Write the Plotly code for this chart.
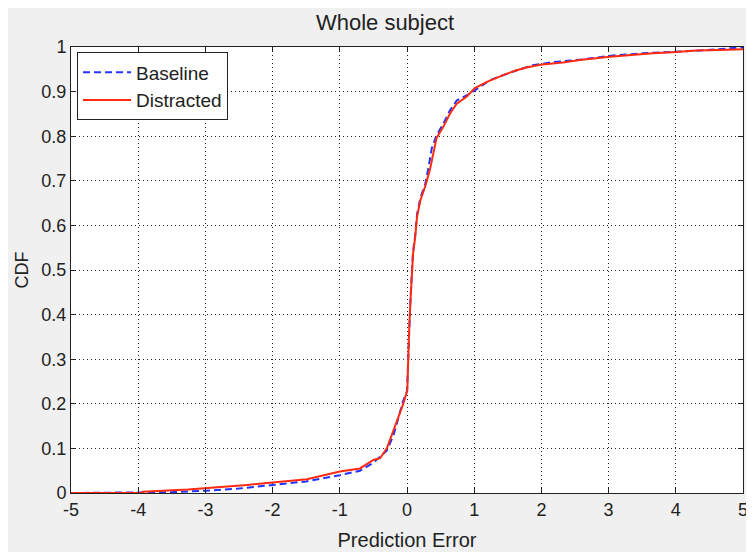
import plotly.graph_objects as go

baseline_x = [-5.0, -3.9, -3.5, -3.0, -2.5, -2.0, -1.5, -1.0, -0.7, -0.5, -0.3, -0.2, -0.06,
              0.0, 0.015, 0.03, 0.05, 0.07, 0.09, 0.12, 0.15, 0.2, 0.27, 0.32, 0.37, 0.44,
              0.54, 0.64, 0.74, 0.94, 1.24, 1.58, 1.87, 2.17, 2.6, 3.07, 3.51, 4.06, 4.46,
              4.96, 5.0]
baseline_y = [0.0, 0.001, 0.002, 0.005, 0.010, 0.018, 0.026, 0.040, 0.050, 0.068, 0.095,
              0.130, 0.205, 0.228, 0.300, 0.360, 0.428, 0.488, 0.540, 0.575, 0.625, 0.662,
              0.692, 0.730, 0.774, 0.802, 0.828, 0.858, 0.880, 0.896, 0.926, 0.945, 0.959,
              0.966, 0.972, 0.981, 0.986, 0.990, 0.993, 0.999, 0.999]

distracted_x = [-5.0, -3.95, -3.93, -3.26, -2.38, -1.99, -1.49, -1.0, -0.7, -0.5, -0.4, -0.3,
                -0.15, -0.055, 0.005, 0.015, 0.03, 0.05, 0.07, 0.09, 0.12, 0.15, 0.2, 0.27,
                0.34, 0.44, 0.54, 0.64, 0.74, 0.89, 1.01, 1.19, 1.43, 1.63, 1.78, 1.98, 2.32,
                2.57, 3.02, 3.32, 3.66, 4.01, 4.31, 4.66, 5.0]
distracted_y = [0.0, 0.0, 0.003, 0.008, 0.018, 0.024, 0.031, 0.048, 0.055, 0.074, 0.078,
                0.100, 0.164, 0.200, 0.231, 0.298, 0.358, 0.425, 0.485, 0.537, 0.571, 0.620,
                0.657, 0.687, 0.724, 0.796, 0.821, 0.851, 0.873, 0.889, 0.908, 0.922, 0.937,
                0.948, 0.954, 0.960, 0.965, 0.971, 0.978, 0.982, 0.986, 0.989, 0.992, 0.993,
                0.995]

x_ticks = [-5, -4, -3, -2, -1, 0, 1, 2, 3, 4, 5]
x_labels = ["-5", "-4", "-3", "-2", "-1", "0", "1", "2", "3", "4", "5"]
y_ticks = [0, 0.1, 0.2, 0.3, 0.4, 0.5, 0.6, 0.7, 0.8, 0.9, 1]
y_labels = ["0", "0.1", "0.2", "0.3", "0.4", "0.5", "0.6", "0.7", "0.8", "0.9", "1"]

fig = go.Figure()
fig.add_trace(go.Scatter(x=baseline_x, y=baseline_y, name="Baseline", mode="lines",
                         line=dict(color="#2233ff", width=2, dash="7px,4px")))
fig.add_trace(go.Scatter(x=distracted_x, y=distracted_y, name="Distracted", mode="lines",
                         line=dict(color="#ff2a10", width=2)))

axis_common = dict(showline=True, linecolor="#222", linewidth=1, mirror="allticks",
                   ticks="inside", ticklen=5, tickcolor="#222", automargin=False,
                   showgrid=True, gridcolor="#222", gridwidth=1, griddash="1px,3px",
                   zeroline=False, tickfont=dict(size=18, color="#222"))

fig.update_xaxes(range=[-5, 5], tickvals=x_ticks, ticktext=x_labels, **axis_common,
                 title=dict(text="Prediction Error", font=dict(size=20, color="#222"),
                            standoff=14))
fig.update_yaxes(range=[0, 1], tickvals=y_ticks, ticktext=y_labels, **axis_common,
                 title=dict(text="CDF", font=dict(size=18, color="#222"), standoff=8))

# page has an 8px body margin, so the plot box is placed 8px up/left of the target
fig.update_layout(
    width=754, height=552,
    margin=dict(l=63, r=19, t=39, b=67),
    paper_bgcolor="#f0f0f0", plot_bgcolor="white",
    font=dict(family="Liberation Sans, Arial", size=18, color="#222"),
    title=dict(text="Whole subject", x=0.5, xanchor="center", y=0.975, yanchor="middle",
               font=dict(size=22)),
    legend=dict(x=0.009, y=0.988, xanchor="left", yanchor="top",
                bgcolor="white", bordercolor="#222", borderwidth=1,
                font=dict(size=19), tracegroupgap=0, itemwidth=48),
)

fig.write_html("out.html")
